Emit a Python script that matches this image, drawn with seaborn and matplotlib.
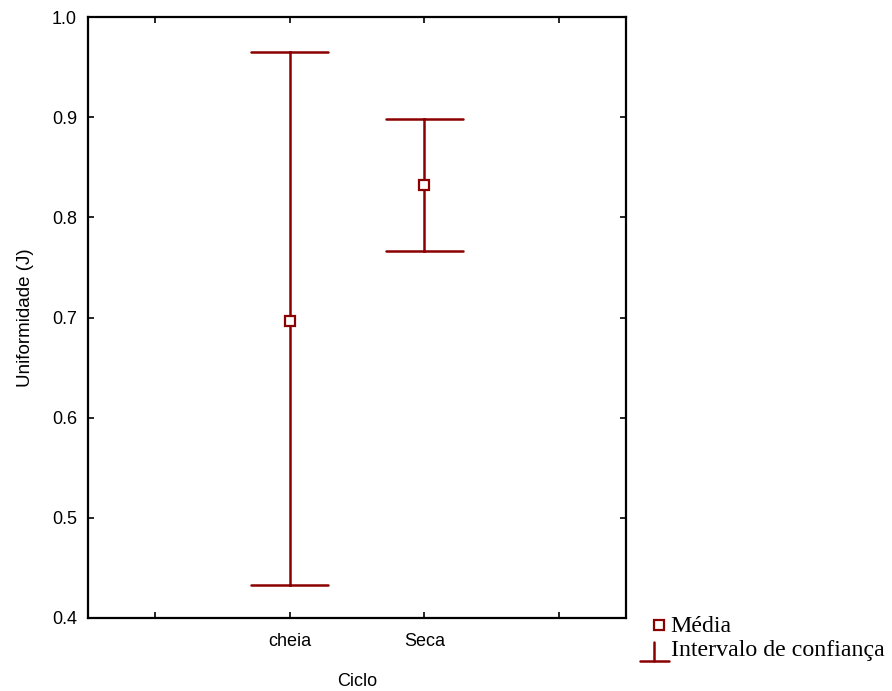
import numpy as np
import pandas as pd
import matplotlib
matplotlib.use("Agg")
import matplotlib.pyplot as plt
import seaborn as sns
from matplotlib.lines import Line2D
from matplotlib.legend_handler import HandlerBase

categories = ["cheia", "Seca"]
means = [0.697, 0.832]
ci_low = [0.433, 0.766]
ci_high = [0.965, 0.898]
yticks = [0.4, 0.5, 0.6, 0.7, 0.8, 0.9, 1.0]

color = "#8b0000"

rows = []
for c, lo, m, hi in zip(categories, ci_low, means, ci_high):
    for v in (lo, m, hi):
        rows.append({"Ciclo": c, "J": v})
df = pd.DataFrame(rows)

sns.set_style("white")
plt.rcParams["font.family"] = ["Liberation Sans", "DejaVu Sans"]
plt.rcParams["text.color"] = "black"
plt.rcParams["axes.labelcolor"] = "black"

fig = plt.figure(figsize=(8.92, 6.91), dpi=100)
ax = fig.add_axes([88/892, 1-618/691, (626-88)/892, (618-17)/691])

sns.pointplot(data=df, x="Ciclo", y="J", order=categories,
              estimator=np.median,
              errorbar=lambda v: (v.min(), v.max()),
              color=color, linestyle="none", marker="s",
              markersize=7, markerfacecolor="white", markeredgecolor=color,
              markeredgewidth=1.6,
              capsize=0.57, err_kws={"linewidth": 1.8, "color": color},
              ax=ax)

for ln in ax.lines:
    if ln.get_marker() == "s":
        ln.set_zorder(5)
        ln.set_markerfacecolor("white")

ax.set_xlim(-1.5, 2.5)
ax.set_ylim(0.4, 1.0)
ax.set_xticks([-1, 0, 1, 2])
ax.set_xticklabels(["", "cheia", "Seca", ""])
ax.set_yticks(yticks)
ax.set_yticklabels([f"{t:.1f}" for t in yticks])
ax.tick_params(direction="in", length=4, width=1.2, top=True, right=True,
               bottom=True, left=True, labelsize=13, pad=8,
               colors="black", labelcolor="black")
ax.tick_params(axis="x", pad=11)
for s in ax.spines.values():
    s.set_visible(True)
    s.set_color("black")
    s.set_linewidth(1.6)
ax.set_xlabel("Ciclo", fontsize=13, labelpad=16, color="black")
ax.set_ylabel("Uniformidade (J)", fontsize=13.5, labelpad=13, color="black")


class CIHandler(HandlerBase):
    def create_artists(self, legend, orig_handle, xdescent, ydescent,
                       width, height, fontsize, trans):
        x0 = -xdescent
        x1 = x0 + width
        xm = (x0 + x1) / 2
        yb = -ydescent - 0.3 * height
        yt = -ydescent + 0.85 * height
        h = Line2D([x0, x1], [yb, yb], color=color, lw=1.8, transform=trans)
        v = Line2D([xm, xm], [yb, yt], color=color, lw=1.8, transform=trans)
        return [h, v]


class MarkHandler(HandlerBase):
    def create_artists(self, legend, orig_handle, xdescent, ydescent,
                       width, height, fontsize, trans):
        x = -xdescent + 0.68 * width
        y = -ydescent + 0.4 * height
        m = Line2D([x], [y], marker="s", linestyle="none", markersize=7,
                   markerfacecolor="white", markeredgecolor=color,
                   markeredgewidth=1.6, transform=trans)
        return [m]


mh = Line2D([], [], marker="s", color=color)
ch = Line2D([], [], color=color)
leg = fig.legend([mh, ch], ["Média", "Intervalo de confiança"],
                 handler_map={ch: CIHandler(), mh: MarkHandler()},
                 loc="upper left", bbox_to_anchor=(640/892, 1-615/691),
                 frameon=False, handlelength=1.2, handletextpad=0.08,
                 labelspacing=0.1, borderaxespad=0, borderpad=0,
                 prop={"family": "Liberation Serif", "size": 17.2})
for t in leg.get_texts():
    t.set_color("black")

fig.savefig("out.png", dpi=100)
